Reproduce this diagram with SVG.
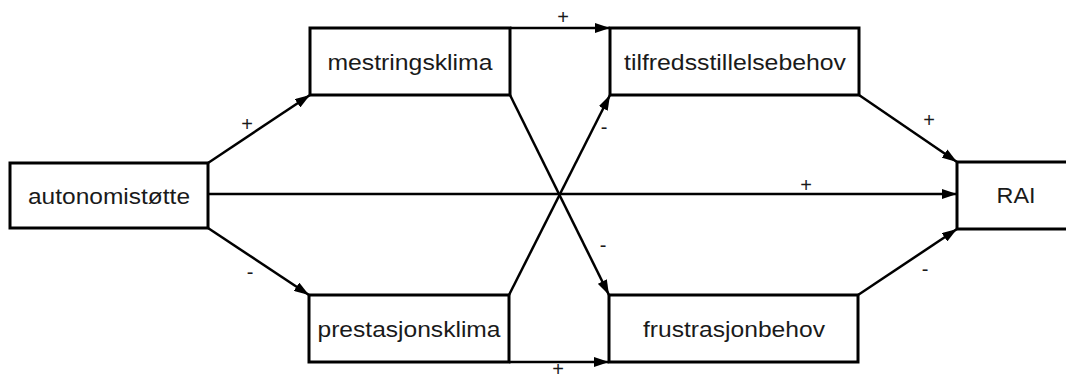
<svg xmlns="http://www.w3.org/2000/svg" width="1066" height="379" viewBox="0 0 1066 379">
  <style>
    .box { fill: #ffffff; stroke: #000000; stroke-width: 3; }
    .lbl { font-family: "Liberation Sans", Arial, sans-serif; font-size: 22px; fill: #1a1a1a; text-anchor: middle; }
    .sign { font-family: "Liberation Sans", Arial, sans-serif; font-size: 20px; fill: #1a1a1a; text-anchor: middle; }
    .edge { stroke: #000000; stroke-width: 2.5; fill: none; }
  </style>
  <defs>
    <marker id="arr" markerUnits="userSpaceOnUse" markerWidth="16" markerHeight="10" refX="15" refY="5" orient="auto">
      <path d="M0,0 L15,5 L0,10 z" fill="#000000"/>
    </marker>
  </defs>
  <rect width="1066" height="379" fill="#ffffff"/>

  <g id="connectors">
    <line class="edge" x1="208" y1="163" x2="310" y2="95" marker-end="url(#arr)"/>
    <line class="edge" x1="208" y1="228" x2="309" y2="295" marker-end="url(#arr)"/>
    <line class="edge" x1="208" y1="194" x2="957" y2="194" marker-end="url(#arr)"/>
    <line class="edge" x1="510" y1="28" x2="610" y2="28" marker-end="url(#arr)"/>
    <line class="edge" x1="509" y1="362" x2="609" y2="362" marker-end="url(#arr)"/>
    <line class="edge" x1="510" y1="95" x2="609" y2="295" marker-end="url(#arr)"/>
    <line class="edge" x1="509" y1="295" x2="610" y2="95" marker-end="url(#arr)"/>
    <line class="edge" x1="859" y1="95" x2="957" y2="162" marker-end="url(#arr)"/>
    <line class="edge" x1="858" y1="295" x2="957" y2="229" marker-end="url(#arr)"/>
    <text class="sign" x="247" y="131">+</text>
    <text class="sign" x="250" y="279">-</text>
    <text class="sign" x="806" y="192">+</text>
    <text class="sign" x="563" y="24">+</text>
    <text class="sign" x="558" y="376">+</text>
    <text class="sign" x="604" y="134">-</text>
    <text class="sign" x="603" y="252">-</text>
    <text class="sign" x="929" y="127">+</text>
    <text class="sign" x="925" y="276">-</text>
  </g>

  <g id="autonomistotte">
    <rect class="box" x="10" y="163" width="198" height="65"/>
    <text class="lbl" x="109" y="204" textLength="162" lengthAdjust="spacingAndGlyphs">autonomistøtte</text>
  </g>
  <g id="mestringsklima">
    <rect class="box" x="310" y="28" width="200" height="67"/>
    <text class="lbl" x="410" y="70" textLength="165" lengthAdjust="spacingAndGlyphs">mestringsklima</text>
  </g>
  <g id="prestasjonsklima">
    <rect class="box" x="309" y="295" width="200" height="67"/>
    <text class="lbl" x="409" y="337" textLength="183" lengthAdjust="spacingAndGlyphs">prestasjonsklima</text>
  </g>
  <g id="tilfredsstillelsebehov">
    <rect class="box" x="610" y="28" width="249" height="67"/>
    <text class="lbl" x="735" y="70" textLength="222" lengthAdjust="spacingAndGlyphs">tilfredsstillelsebehov</text>
  </g>
  <g id="frustrasjonbehov">
    <rect class="box" x="609" y="295" width="249" height="67"/>
    <text class="lbl" x="734" y="337" textLength="182" lengthAdjust="spacingAndGlyphs">frustrasjonbehov</text>
  </g>
  <g id="RAI">
    <rect class="box" x="957" y="162" width="130" height="67"/>
    <text class="lbl" x="1016" y="203" textLength="39" lengthAdjust="spacingAndGlyphs">RAI</text>
  </g>
</svg>
